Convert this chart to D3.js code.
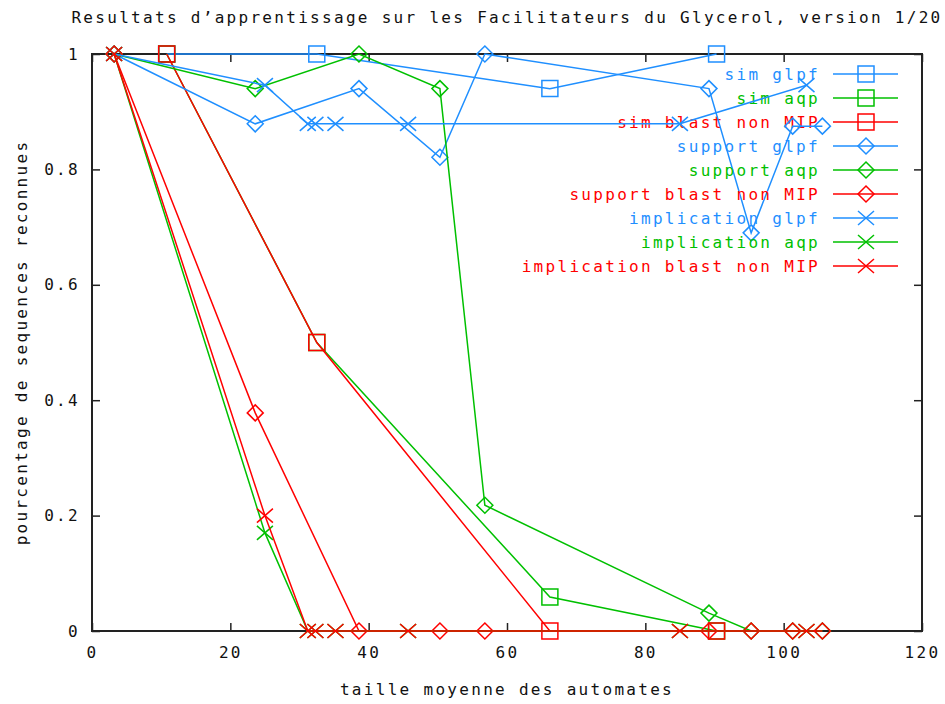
<!DOCTYPE html>
<html>
<head>
<meta charset="utf-8">
<script src="https://cdn.jsdelivr.net/npm/d3@7"></script>
<style>
  body { margin: 0; background: #fff; }
  text { font-family: 'DejaVu Sans Mono', monospace; font-size: 16px; letter-spacing: 2.3px; fill: #111; }
</style>
</head>
<body>
<script>
// values
let simX = [10.8, 32.5, 66.2, 90.3]
let simGlpf = [1, 1, 0.94, 1]
let simAqp = [1, 0.5, 0.059, 0]
let simBlast = [1, 0.5, 0, 0]

let supportX = [3.2, 23.6, 38.6, 50.3, 56.8, 89.2, 95.3, 101.3, 105.6]
let supportGlpf = [1, 0.879, 0.94, 0.821, 1, 0.94, 0.69, 0.875, 0.875]
let supportAqp = [1, 0.94, 1, 0.94, 0.218, 0.031, 0, 0, 0]
let supportBlast = [1, 0.378, 0, 0, 0, 0, 0, 0, 0]

let implicationX = [3.2, 25, 31.2, 32.3, 35.2, 45.7, 85, 103.3]
let implicationGlpf = [1, 0.946, 0.879, 0.879, 0.879, 0.879, 0.879, 0.946]
let implicationAqp = [1, 0.17, 0, 0, 0, 0, 0, 0]
let implicationBlast = [1, 0.2, 0, 0, 0, 0, 0, 0]

let xTicks = [0, 20, 40, 60, 80, 100, 120]
let yTicks = [0, 0.2, 0.4, 0.6, 0.8, 1]

let blue = '#1f8fff'
let green = '#00c000'
let red = '#ff0000'

let series = [
  { name: 'sim glpf', x: simX, y: simGlpf, color: blue, shape: 'square' },
  { name: 'sim aqp', x: simX, y: simAqp, color: green, shape: 'square' },
  { name: 'sim blast non MIP', x: simX, y: simBlast, color: red, shape: 'square' },
  { name: 'support glpf', x: supportX, y: supportGlpf, color: blue, shape: 'diamond' },
  { name: 'support aqp', x: supportX, y: supportAqp, color: green, shape: 'diamond' },
  { name: 'support blast non MIP', x: supportX, y: supportBlast, color: red, shape: 'diamond' },
  { name: 'implication glpf', x: implicationX, y: implicationGlpf, color: blue, shape: 'cross' },
  { name: 'implication aqp', x: implicationX, y: implicationAqp, color: green, shape: 'cross' },
  { name: 'implication blast non MIP', x: implicationX, y: implicationBlast, color: red, shape: 'cross' }
]

let width = 945
let height = 704
let margin = { top: 54, right: 23, bottom: 73, left: 92 }

let x = d3.scaleLinear().domain([0, 120]).range([margin.left, width - margin.right])
let y = d3.scaleLinear().domain([0, 1]).range([height - margin.bottom, margin.top])

let svg = d3.select('body').append('svg')
  .attr('width', width)
  .attr('height', height)

function marker (shape, cx, cy) {
  if (shape === 'square') {
    return `M${cx - 8},${cy - 8}h16v16h-16Z`
  }
  if (shape === 'diamond') {
    return `M${cx},${cy - 8}L${cx + 8},${cy}L${cx},${cy + 8}L${cx - 8},${cy}Z`
  }
  return `M${cx - 8},${cy - 7}L${cx + 8},${cy + 7}M${cx - 8},${cy + 7}L${cx + 8},${cy - 7}`
}

let fmt = d => String(+d.toFixed(1))

// axes, ticks mirrored inside the frame like gnuplot
svg.append('g')
  .attr('transform', `translate(0,${y(0)})`)
  .call(d3.axisBottom(x).tickValues(xTicks).tickSize(-8).tickSizeOuter(0).tickPadding(16).tickFormat(fmt))
svg.append('g')
  .attr('transform', `translate(0,${y(1)})`)
  .call(d3.axisTop(x).tickValues(xTicks).tickSize(-8).tickSizeOuter(0).tickFormat(''))
svg.append('g')
  .attr('transform', `translate(${x(0)},0)`)
  .call(d3.axisLeft(y).tickValues(yTicks).tickSize(-8).tickSizeOuter(0).tickPadding(12).tickFormat(fmt))
svg.append('g')
  .attr('transform', `translate(${x(120)},0)`)
  .call(d3.axisRight(y).tickValues(yTicks).tickSize(-8).tickSizeOuter(0).tickFormat(''))

svg.selectAll('.domain').remove()
svg.selectAll('.tick line').attr('stroke', '#222').attr('stroke-width', 1.5)
svg.selectAll('.tick text')
  .style('font-family', "'DejaVu Sans Mono', monospace")
  .style('font-size', '16px')
  .attr('fill', '#111')

svg.append('rect')
  .attr('x', x(0))
  .attr('y', y(1))
  .attr('width', x(120) - x(0))
  .attr('height', y(0) - y(1))
  .attr('fill', 'none')
  .attr('stroke', '#222')
  .attr('stroke-width', 2)

// titles
svg.append('text')
  .attr('x', (x(0) + x(120)) / 2)
  .attr('y', 23)
  .attr('text-anchor', 'middle')
  .text('Resultats d’apprentissage sur les Facilitateurs du Glycerol, version 1/20')

svg.append('text')
  .attr('x', (x(0) + x(120)) / 2)
  .attr('y', 695)
  .attr('text-anchor', 'middle')
  .text('taille moyenne des automates')

svg.append('text')
  .attr('transform', `translate(27,${(y(0) + y(1)) / 2}) rotate(-90)`)
  .attr('text-anchor', 'middle')
  .text('pourcentage de sequences reconnues')

let line = d3.line()
  .x(d => x(d[0]))
  .y(d => y(d[1]))

// each plot: key entry, then its line and points (gnuplot drawing order)
series.forEach(function (s, i) {
  let g = svg.append('g')
  let ky = 74 + i * 24

  g.append('text')
    .attr('x', 820)
    .attr('y', ky)
    .attr('dy', '0.35em')
    .attr('text-anchor', 'end')
    .style('fill', s.color)
    .text(s.name)
  g.append('line')
    .attr('x1', 833).attr('x2', 898)
    .attr('y1', ky).attr('y2', ky)
    .attr('stroke', s.color)
    .attr('stroke-width', 1.5)
  g.append('path')
    .attr('d', marker(s.shape, 866, ky))
    .attr('fill', 'none')
    .attr('stroke', s.color)
    .attr('stroke-width', 1.5)

  let pts = s.x.map((v, j) => [v, s.y[j]])

  g.append('path')
    .datum(pts)
    .attr('d', line)
    .attr('fill', 'none')
    .attr('stroke', s.color)
    .attr('stroke-width', 1.5)

  g.selectAll('.pt')
    .data(pts)
    .enter().append('path')
    .attr('class', 'pt')
    .attr('d', d => marker(s.shape, x(d[0]), y(d[1])))
    .attr('fill', 'none')
    .attr('stroke', s.color)
    .attr('stroke-width', 1.5)
})
</script>
</body>
</html>
